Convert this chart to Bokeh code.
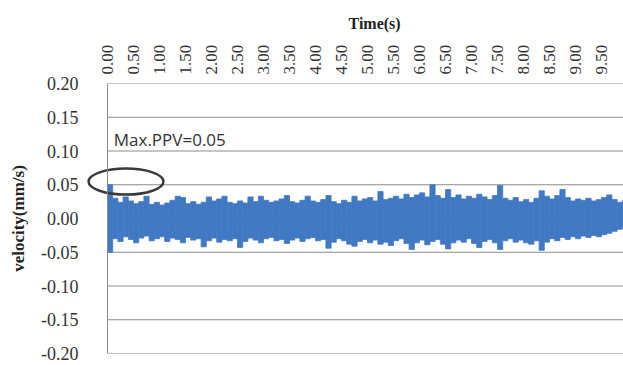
import numpy as np
from bokeh.plotting import figure
from bokeh.models import FixedTicker, NumeralTickFormatter, Range1d, Label, Span, Title
from bokeh.embed import file_html
from bokeh.resources import INLINE

# Sample start times (s), one block every 0.1 s
time_s = [round(i * 0.1, 1) for i in range(100)]

# Upper envelope of the velocity record in each 0.1 s block (mm/s)
vel_upper = [
    0.050, 0.030, 0.024, 0.032, 0.026, 0.022, 0.025, 0.033, 0.021, 0.024,
    0.020, 0.023, 0.027, 0.033, 0.031, 0.022, 0.025, 0.021, 0.024, 0.032,
    0.026, 0.029, 0.033, 0.024, 0.022, 0.026, 0.023, 0.032, 0.025, 0.033,
    0.027, 0.024, 0.026, 0.029, 0.034, 0.025, 0.023, 0.027, 0.033, 0.026,
    0.024, 0.028, 0.034, 0.025, 0.022, 0.027, 0.024, 0.033, 0.026, 0.029,
    0.031, 0.026, 0.040, 0.028, 0.030, 0.033, 0.029, 0.036, 0.031, 0.035,
    0.038, 0.032, 0.050, 0.034, 0.030, 0.043, 0.031, 0.035, 0.029, 0.033,
    0.030, 0.036, 0.032, 0.028, 0.034, 0.049, 0.030, 0.027, 0.031, 0.025,
    0.028, 0.024, 0.030, 0.041, 0.033, 0.029, 0.034, 0.043, 0.031, 0.026,
    0.029, 0.027, 0.030, 0.026, 0.028, 0.031, 0.035, 0.028, 0.024, 0.027,
]

# Lower envelope of the velocity record in each 0.1 s block (mm/s)
vel_lower = [
    -0.050, -0.030, -0.034, -0.027, -0.031, -0.036, -0.029, -0.026, -0.033, -0.030,
    -0.027, -0.034, -0.029, -0.031, -0.036, -0.028, -0.032, -0.030, -0.042, -0.033,
    -0.029, -0.035, -0.031, -0.033, -0.030, -0.043, -0.034, -0.029, -0.032, -0.036,
    -0.030, -0.028, -0.033, -0.031, -0.037, -0.032, -0.029, -0.034, -0.030, -0.028,
    -0.033, -0.031, -0.044, -0.035, -0.030, -0.033, -0.038, -0.041, -0.034, -0.031,
    -0.036, -0.032, -0.038, -0.035, -0.040, -0.033, -0.030, -0.037, -0.046, -0.036,
    -0.032, -0.039, -0.034, -0.031, -0.038, -0.045, -0.036, -0.032, -0.035, -0.030,
    -0.037, -0.043, -0.034, -0.031, -0.036, -0.046, -0.033, -0.030, -0.035, -0.032,
    -0.036, -0.038, -0.033, -0.047, -0.035, -0.030, -0.033, -0.028, -0.031, -0.027,
    -0.030, -0.026, -0.028, -0.025, -0.027, -0.024, -0.022, -0.019, -0.016, -0.014,
]

# Axis ticks and their labels
time_ticks = [0.0, 0.5, 1.0, 1.5, 2.0, 2.5, 3.0, 3.5, 4.0, 4.5,
              5.0, 5.5, 6.0, 6.5, 7.0, 7.5, 8.0, 8.5, 9.0, 9.5]
time_tick_labels = ["0.00", "0.50", "1.00", "1.50", "2.00", "2.50", "3.00", "3.50", "4.00", "4.50",
                    "5.00", "5.50", "6.00", "6.50", "7.00", "7.50", "8.00", "8.50", "9.00", "9.50"]
vel_ticks = [-0.20, -0.15, -0.10, -0.05, 0.00, 0.05, 0.10, 0.15, 0.20]

max_ppv = 0.05
block = 0.1
t_end = 9.923

BLUE = "#4178C3"
GRID = "#8c8c8c"
TEXT = "#333333"

# The frame starts a little left of t = 0 so the ring around the first
# spike can cross the vertical axis line.
p = figure(
    width=623, height=365,
    output_backend="svg", toolbar_location=None,
    x_axis_location="above",
    x_range=Range1d(-0.404, t_end), y_range=Range1d(-0.20, 0.20),
    min_border_left=86, min_border_right=0, min_border_top=83, min_border_bottom=12,
    background_fill_color="white", border_fill_color="white",
)
p.outline_line_color = None
p.xgrid.grid_line_color = None
p.ygrid.grid_line_color = None

# Horizontal gridlines from t = 0 onwards, and the vertical axis line at t = 0
p.segment(x0=0, x1=t_end + 1, y0=vel_ticks, y1=vel_ticks,
          line_color=GRID, line_width=1)
p.add_layout(Span(location=0, dimension="height", line_color=GRID, line_width=1))

# Signal: each block filled between its lower and upper envelope
t = np.array(time_s)
p.quad(left=t, right=t + block, bottom=vel_lower, top=vel_upper,
       fill_color=BLUE, line_color=BLUE, line_width=0.8)

# Time axis on top, vertical labels
xa = p.xaxis[0]
xa.ticker = FixedTicker(ticks=time_ticks)
xa.major_label_overrides = {tk: lb for tk, lb in zip(time_ticks, time_tick_labels)}
xa.major_label_orientation = np.pi / 2
xa.axis_line_color = None
xa.major_tick_line_color = None
xa.minor_tick_line_color = None
xa.major_tick_out = 0
xa.major_tick_in = 0
xa.major_label_standoff = 9
xa.major_label_text_font = "Liberation Serif"
xa.major_label_text_font_size = "17px"
xa.major_label_text_color = TEXT

# Axis title for time, above the tick labels
p.add_layout(Title(text="Time(s)", align="left", offset=262, standoff=20,
                   text_font="Liberation Serif", text_font_style="bold",
                   text_font_size="16px", text_color="#222222"), "above")

# Velocity axis (its line is the span at t = 0)
ya = p.yaxis[0]
ya.ticker = FixedTicker(ticks=vel_ticks)
ya.formatter = NumeralTickFormatter(format="0.00")
ya.axis_line_color = None
ya.major_tick_line_color = None
ya.minor_tick_line_color = None
ya.major_tick_out = 0
ya.major_tick_in = 0
ya.major_label_standoff = 8
ya.major_label_text_font = "Liberation Serif"
ya.major_label_text_font_size = "18px"
ya.major_label_text_color = TEXT
ya.axis_label = "velocity(mm/s)"
ya.axis_label_text_font = "Liberation Serif"
ya.axis_label_text_font_style = "bold"
ya.axis_label_text_font_size = "17px"
ya.axis_label_text_color = "#222222"
ya.axis_label_standoff = 10

# Peak annotation: text and ring around the first spike
p.add_layout(Label(x=0.12, y=0.1005, text=f"Max.PPV={max_ppv:.2f}",
                   text_font="Open Sans", text_font_size="17px",
                   text_color=TEXT, text_baseline="bottom"))
p.ellipse(x=[0.356], y=[0.0548], width=1.44, height=0.0385,
          fill_color=None, line_color="#3a3a3a", line_width=2.5)

open("out.html", "w").write(file_html(p, INLINE))
